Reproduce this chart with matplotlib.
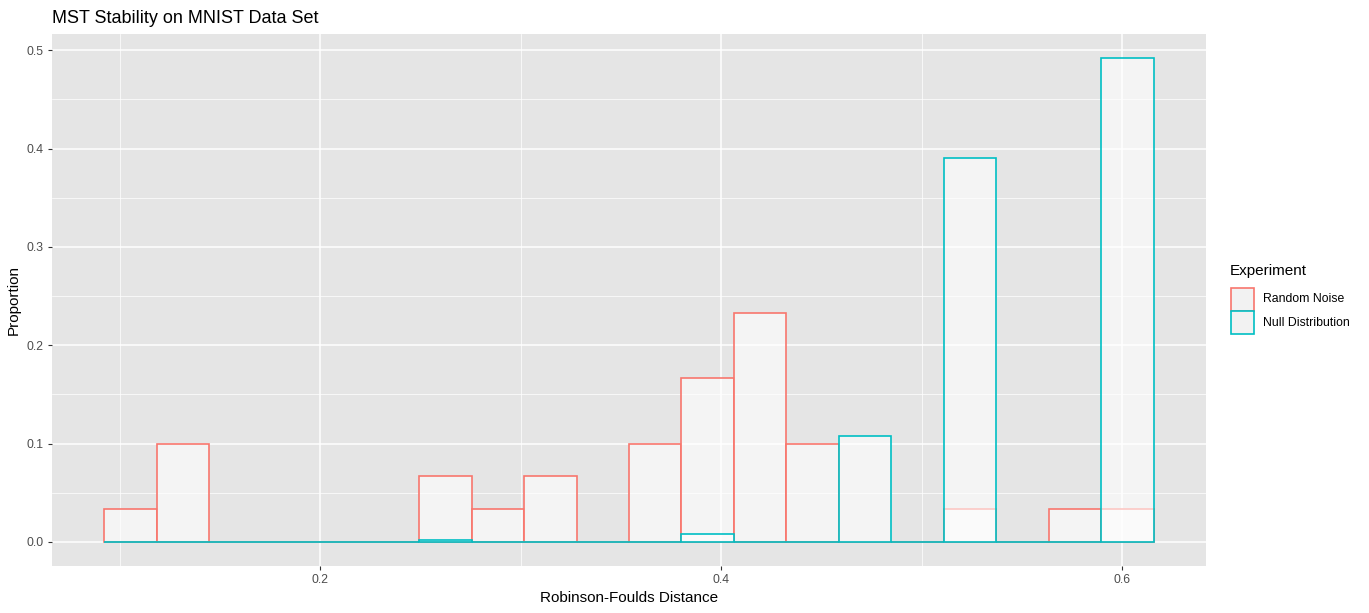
import numpy as np
import matplotlib
matplotlib.use("Agg")
import matplotlib.pyplot as plt
from matplotlib.patches import Rectangle
from matplotlib.ticker import MultipleLocator

plt.rcParams['font.family'] = ['Liberation Sans', 'DejaVu Sans']

# Data: histogram proportions per bin (20 bins)
bin_lo = 0.0923
bin_hi = 0.6155
n_bins = 20
random_noise = [0.033, 0.100, 0, 0, 0, 0, 0.067, 0.033, 0.067, 0,
                0.100, 0.167, 0.233, 0.100, 0, 0, 0.033, 0, 0.033, 0.033]
null_dist = [0, 0, 0, 0, 0, 0, 0.002, 0, 0, 0,
             0, 0.008, 0, 0, 0.108, 0, 0.390, 0, 0, 0.492]
series_names = ["Random Noise", "Null Distribution"]
series_colors = ["#F8766D", "#00BFC4"]

edges = np.linspace(bin_lo, bin_hi, n_bins + 1)
width = edges[1] - edges[0]
centers = (edges[:-1] + edges[1:]) / 2

W, H = 1369, 613
fig = plt.figure(figsize=(W/100, H/100), dpi=100)
ax = fig.add_axes([52/W, (H-566)/H, (1206-52)/W, (566-34)/H])
ax.set_facecolor('#E5E5E5')

fill = (1, 1, 1, 0.6)
for vals, col in zip([random_noise, null_dist], series_colors):
    ax.bar(centers, vals, width=width, facecolor=fill, edgecolor=col,
           linewidth=1.2, zorder=3)

span = bin_hi - bin_lo
ax.set_xlim(bin_lo - 0.05*span, bin_hi + 0.05*span)
ymax = max(max(random_noise), max(null_dist))
ax.set_ylim(-0.05*ymax, 1.05*ymax)

ax.xaxis.set_minor_locator(MultipleLocator(0.1))
ax.yaxis.set_minor_locator(MultipleLocator(0.05))
ax.set_xticks([0.2, 0.4, 0.6])
ax.set_xticklabels(["0.2", "0.4", "0.6"])
ax.set_yticks([0, 0.1, 0.2, 0.3, 0.4, 0.5])
ax.set_yticklabels(["0.0", "0.1", "0.2", "0.3", "0.4", "0.5"])
ax.grid(which='major', color='white', linewidth=1.1, zorder=0)
ax.grid(which='minor', color='white', linewidth=0.5, zorder=0)
ax.set_axisbelow(True)
for s in ax.spines.values():
    s.set_visible(False)
ax.tick_params(which='major', length=3, color='#333333', labelcolor='#4D4D4D',
               labelsize=8.8, pad=3)
ax.tick_params(which='minor', length=0)

ax.set_xlabel("Robinson-Foulds Distance", fontsize=11, color='black', labelpad=3)
ax.set_ylabel("Proportion", fontsize=11, color='black', labelpad=4)
ax.set_title("MST Stability on MNIST Data Set", fontsize=13, loc='left',
             color='black', pad=8)

# Legend (drawn manually, ggplot style)
fig.text(1230/W, 1 - 271/H, "Experiment", fontsize=11, color='black',
         ha='left', va='center')
key_x, key_w, key_h = 1231, 23, 23
key_tops = [288, 311]
for name, col, top in zip(series_names, series_colors, key_tops):
    fig.add_artist(Rectangle((key_x/W, 1 - (top + key_h)/H), key_w/W, key_h/H,
                             transform=fig.transFigure, facecolor='#F2F2F2',
                             edgecolor=col, linewidth=1.2))
    fig.text(1263/W, 1 - (top + key_h/2)/H, name, fontsize=8.8,
             color='black', ha='left', va='center')

fig.savefig("out.png", dpi=100)
